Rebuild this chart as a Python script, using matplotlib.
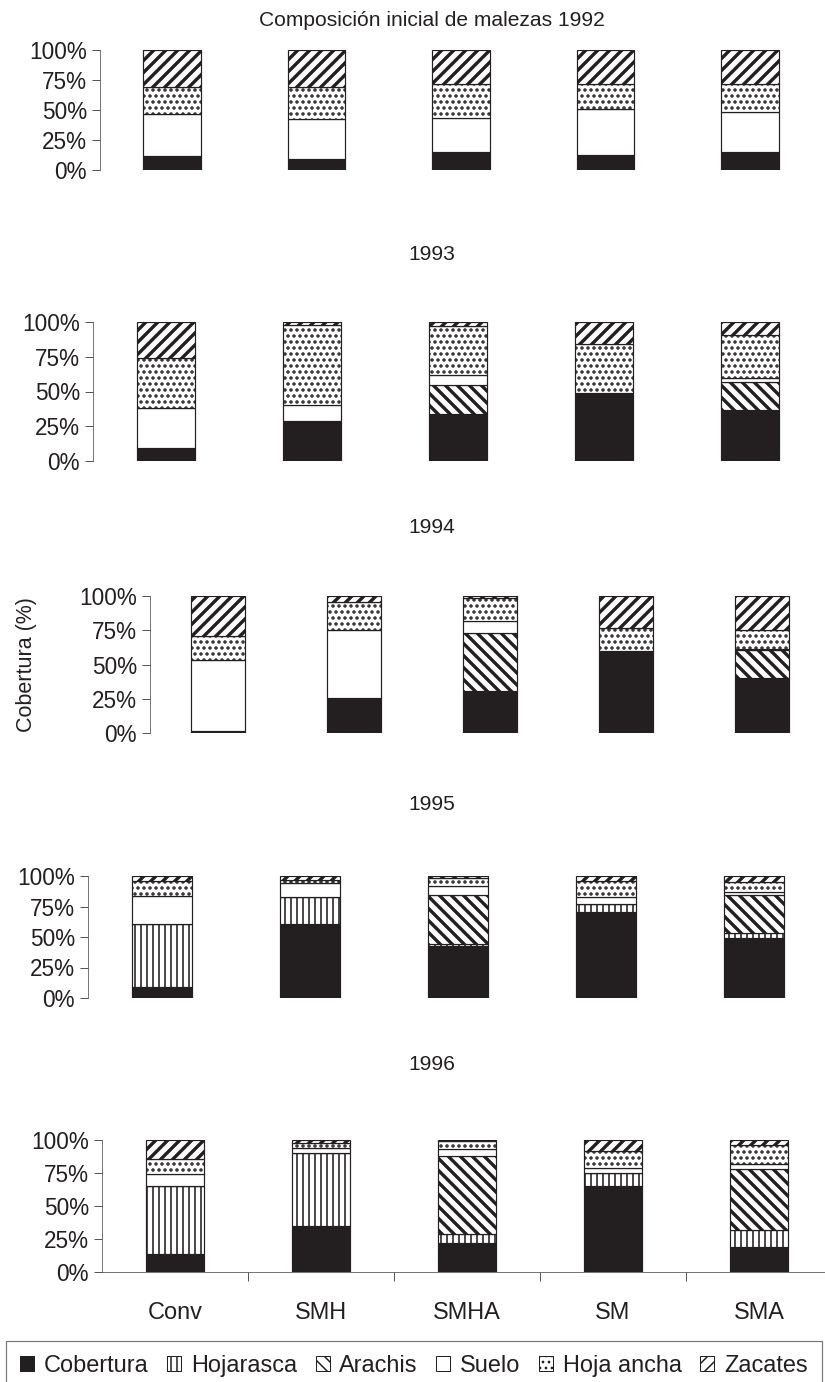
import matplotlib
matplotlib.use('Agg')
import matplotlib.pyplot as plt
from matplotlib.patches import Patch
from matplotlib.ticker import FuncFormatter, FixedLocator
import numpy as np

"""Composicion de malezas 1992-1996, barras apiladas al 100%"""

tratamientos = ['Conv', 'SMH', 'SMHA', 'SM', 'SMA']
anios = ['Composición inicial de malezas 1992', '1993', '1994', '1995', '1996']
series = ['Cobertura', 'Hojarasca', 'Arachis', 'Suelo', 'Hoja ancha',
          'Zacates']

# one row per year, one value per treatment (%)
cobertura = [[12, 9, 15, 12.5, 15],
             [9, 29, 34, 49, 37],
             [1.5, 25.5, 31, 59.5, 40.5],
             [9, 61, 42.5, 70.5, 49],
             [14, 35, 22, 65, 19]]
hojarasca = [[0, 0, 0, 0, 0],
             [0, 0, 0, 0, 0],
             [0, 0, 0, 0, 0],
             [52, 21.5, 1.5, 6.5, 4],
             [51.5, 55.5, 7, 10, 12.5]]
arachis = [[0, 0, 0, 0, 0],
           [0, 0, 21, 0, 20],
           [0, 0, 42, 0, 20],
           [0, 0, 40.5, 0, 31.5],
           [0, 0, 59, 0, 46.5]]
suelo = [[35, 33.5, 28.5, 38.5, 33],
         [29, 11.5, 7, 0, 3],
         [52, 50, 8.5, 0, 1],
         [23, 12, 7.5, 5.5, 2],
         [9, 3.5, 5, 4, 3.5]]
hoja_ancha = [[22, 27, 28.5, 21, 24],
              [36, 57.5, 35, 35, 31],
              [17.5, 20, 17, 17, 14],
              [12, 2, 6, 13.5, 8.5],
              [11, 4, 6, 12.5, 14.5]]
zacates = [[31, 30.5, 28, 28, 28],
           [26, 2, 3, 16, 9],
           [29, 4.5, 1.5, 23.5, 24.5],
           [4, 3.5, 2, 4, 5],
           [14.5, 2, 1, 8.5, 4]]

datos = [cobertura, hojarasca, arachis, suelo, hoja_ancha, zacates]
negro = '#231f20'
estilos = [dict(facecolor=negro, hatch=None, hlw=1.0),
           dict(facecolor='white', hatch='||', hlw=1.6),
           dict(facecolor='white', hatch='\\\\', hlw=3.4),
           dict(facecolor='white', hatch=None, hlw=1.0),
           dict(facecolor='white', hatch='..', hlw=2.2),
           dict(facecolor='white', hatch='//', hlw=3.4)]

plt.rcParams['font.family'] = ['Liberation Sans', 'DejaVu Sans']
plt.rcParams['hatch.color'] = negro

W, H = 825., 1382.
DPI = 72
# axes boxes in pixels: left, right, y of 100%, y of 0%
cajas = [(100, 822, 50, 170),
         (93, 823, 322, 461),
         (150, 830, 596, 733),
         (88, 828, 876, 998),
         (102, 832, 1140, 1272)]
titulos_y = [20, 255, 528, 805, 1065]

fig = plt.figure(figsize=(W / DPI, H / DPI), dpi=DPI)
x = np.arange(len(tratamientos))


def poner_hatch_lw(barras, lw):
    for b in barras:
        if hasattr(b, 'set_hatch_linewidth'):
            b.set_hatch_linewidth(lw)


for i, (l, r, yt, yb) in enumerate(cajas):
    ax = fig.add_axes([l / W, 1 - yb / H, (r - l) / W, (yb - yt) / H])
    base = np.zeros(len(tratamientos))
    for k, serie in enumerate(datos):
        vals = np.array(serie[i], dtype=float)
        st = estilos[k]
        plt.rcParams['hatch.linewidth'] = st['hlw']
        barras = ax.bar(x, vals, 0.4, bottom=base, facecolor=st['facecolor'],
                        edgecolor=negro, linewidth=1.2, hatch=st['hatch'])
        poner_hatch_lw(barras, st['hlw'])
        base += vals
    ax.set_xlim(-0.5, len(tratamientos) - 0.5)
    ax.set_ylim(0, 100)
    ax.yaxis.set_major_locator(FixedLocator([0, 25, 50, 75, 100]))
    ax.yaxis.set_major_formatter(FuncFormatter(lambda v, p: '%d%%' % v))
    for s in ['top', 'right']:
        ax.spines[s].set_visible(False)
    ax.spines['left'].set_color('#555555')
    ax.tick_params(axis='y', length=8, width=1, color='#555555', pad=5,
                   labelsize=22.5, labelcolor=negro)
    if i < 4:
        ax.spines['bottom'].set_visible(False)
        ax.set_xticks([])
    else:
        ax.spines['bottom'].set_color('#555555')
        ax.set_xticks(x)
        ax.set_xticklabels(tratamientos)
        ax.tick_params(axis='x', which='major', length=0, pad=30,
                       labelsize=23.5, labelcolor=negro)
        ax.set_xticks(np.arange(0.5, len(tratamientos)), minor=True)
        ax.tick_params(axis='x', which='minor', length=9, width=1,
                       color='#555555')
    if i == 2:
        ax.set_ylabel('Cobertura (%)', fontsize=21.5, color=negro)
        ax.yaxis.set_label_coords((37 - l) / (r - l), 0.5)
    fig.text(432 / W, 1 - titulos_y[i] / H, anios[i], ha='center',
             va='center', fontsize=21, color=negro)

# leyenda
handles = []
for k, nombre in enumerate(series):
    st = estilos[k]
    lw_ley = min(st['hlw'], 1.5)
    plt.rcParams['hatch.linewidth'] = lw_ley
    p = Patch(facecolor=st['facecolor'], edgecolor=negro,
              hatch=st['hatch'], linewidth=1.0, label=nombre)
    if hasattr(p, 'set_hatch_linewidth'):
        p.set_hatch_linewidth(lw_ley)
    handles.append(p)
leg = fig.legend(handles=handles, loc='upper left',
                 bbox_to_anchor=(6 / W, 1 - 1341 / H), ncol=6,
                 frameon=True, fancybox=False, fontsize=23.5,
                 handlelength=0.6, handleheight=0.6, handletextpad=0.4,
                 columnspacing=0.8, borderpad=0.6, borderaxespad=0)
leg.get_frame().set_edgecolor('#555555')
leg.get_frame().set_linewidth(1.2)
for t in leg.get_texts():
    t.set_color(negro)

plt.savefig('out.png', dpi=DPI)
